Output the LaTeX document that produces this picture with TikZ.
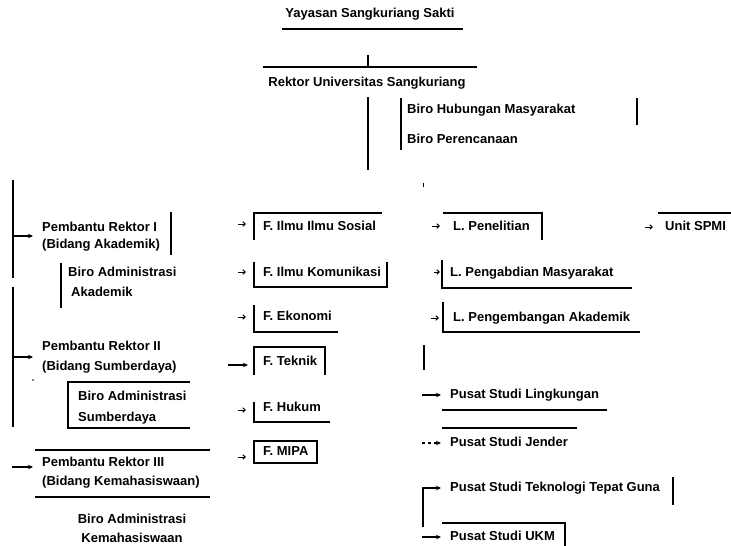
\documentclass[tikz,border=0pt]{standalone}
\usepackage{fontspec}
\setmainfont{Liberation Sans}
\usetikzlibrary{arrows.meta}
\begin{document}
\begin{tikzpicture}[x=1pt,y=-1pt,
  lbl/.style={inner sep=0pt, anchor=west, font=\bfseries\fontsize{13}{15}\selectfont, text height=9.5pt, text depth=2.7pt},
  lbltwo/.style={inner sep=0pt, anchor=west, align=left, font=\bfseries\fontsize{13}{20}\selectfont},
  frame/.style={line width=1.5pt},
  arr/.style={line width=1.2pt, -{Stealth[length=5pt,width=4.5pt]}},
  tip/.style={line width=1pt, -{Straight Barb[length=2.5pt,width=4.5pt]}},
]
\useasboundingbox (0,0) rectangle (731,546);

% top
\node[lbl, anchor=center] (yay) at (370,14) {Yayasan Sangkuriang Sakti};
\draw[line width=2.6pt] (282,29) -- (463,29);
\draw[frame] (368,55) -- (368,67);
\draw[frame] (263,67) -- (477,67);
\node[lbl, anchor=center] (rek) at (367,83) {Rektor Universitas Sangkuriang};
\draw[frame] (368,97) -- (368,170);
\draw[frame] (401,98) -- (401,150);
\node[lbl] (humas) at (407,110) {Biro Hubungan Masyarakat};
\draw[frame] (637,98) -- (637,125);
\node[lbl] (renc) at (407,140) {Biro Perencanaan};
\draw[line width=1pt] (423,183) -- (423,187);

% left column
\draw[frame] (13,180) -- (13,278);
\coordinate (a1s) at (13,236);
\coordinate (a1e) at (33,236);
\draw[arr] (a1s) -- (a1e);
\node[lbltwo] (pr1) at (42,237) {Pembantu Rektor I\\[-3pt](Bidang Akademik)};
\draw[frame] (171,212) -- (171,255);
\draw[frame] (61,263) -- (61,308);
\node[lbltwo] (baa) at (68,282) {Biro Administrasi\\\hspace*{3pt}Akademik};
\draw[frame] (13,287) -- (13,427);
\coordinate (a2s) at (13,357);
\coordinate (a2e) at (33,357);
\draw[arr] (a2s) -- (a2e);
\node[lbltwo] (pr2) at (42,357) {Pembantu Rektor II\\(Bidang Sumberdaya)};
\fill (33,380) circle (0.8pt);
\draw[frame] (190,382) -- (68,382) -- (68,428) -- (190,428);
\node[lbltwo] (bas) at (78,408) {Biro Administrasi\\[1pt]Sumberdaya};
\draw[frame] (35,450) -- (210,450);
\coordinate (a3s) at (12,467);
\coordinate (a3e) at (33,467);
\draw[arr] (a3s) -- (a3e);
\node[lbltwo] (pr3) at (42,473) {Pembantu Rektor III\\[-1pt](Bidang Kemahasiswaan)};
\draw[frame] (35,497) -- (210,497);
\node[lbltwo, align=center, anchor=center] (bak) at (132,528) {Biro Administrasi\\[-1pt]Kemahasiswaan};

% faculties
\foreach \yy/\nm in {224/t1, 272/t2, 317/t3, 410/t5, 457/t6} {
  \coordinate (\nm s) at (238,\yy);
  \coordinate (\nm e) at (246,\yy);
  \draw[tip] (\nm s) -- (\nm e);
}
\coordinate (t4s) at (228,365);
\coordinate (t4e) at (248,365);
\draw[arr] (t4s) -- (t4e);
\draw[frame] (254,240) -- (254,213) -- (382,213);
\node[lbl] (fis) at (263,227) {F. Ilmu Ilmu Sosial};
\draw[frame] (254,262) -- (254,287) -- (387,287) -- (387,262);
\node[lbl] (fik) at (263,273) {F. Ilmu Komunikasi};
\draw[frame] (254,305) -- (254,332) -- (338,332);
\node[lbl] (fe) at (263,317) {F. Ekonomi};
\draw[frame] (254,375) -- (254,347) -- (325,347) -- (325,375);
\node[lbl] (ft) at (263,362) {F. Teknik};
\draw[frame] (254,402) -- (254,422) -- (330,422);
\node[lbl] (fh) at (263,408) {F. Hukum};
\draw[frame] (254,441) rectangle (317,463);
\node[lbl] (fm) at (263,452) {F. MIPA};

% lembaga
\coordinate (l1s) at (432,226); \coordinate (l1e) at (440,226);
\draw[tip] (l1s) -- (l1e);
\draw[frame] (443,213) -- (542,213) -- (542,240);
\node[lbl] (lp) at (453,227) {L. Penelitian};
\coordinate (u1s) at (645,227); \coordinate (u1e) at (653,227);
\draw[tip] (u1s) -- (u1e);
\draw[frame] (658,213) -- (731,213);
\node[lbl] (spmi) at (665,227) {Unit SPMI};
\coordinate (l2s) at (434,272); \coordinate (l2e) at (440,272);
\draw[tip] (l2s) -- (l2e);
\draw[frame] (442,260) -- (442,288) -- (632,288);
\node[lbl] (lpm) at (450,273) {L. Pengabdian Masyarakat};
\coordinate (l3s) at (431,318); \coordinate (l3e) at (439,318);
\draw[tip] (l3s) -- (l3e);
\draw[frame] (443,302) -- (443,332) -- (640,332);
\node[lbl] (lpa) at (453,318) {L. Pengembangan Akademik};
\draw[frame] (424,345) -- (424,370);

% pusat studi
\coordinate (p1s) at (422,395); \coordinate (p1e) at (441,395);
\draw[arr] (p1s) -- (p1e);
\node[lbl] (psl) at (450,395) {Pusat Studi Lingkungan};
\draw[frame] (442,410) -- (607,410);
\draw[frame] (442,428) -- (577,428);
\coordinate (p2s) at (422,443); \coordinate (p2e) at (441,443);
\draw[arr, dashed] (p2s) -- (p2e);
\node[lbl] (psj) at (450,443) {Pusat Studi Jender};
\coordinate (p3s) at (423,527); \coordinate (p3e) at (441,488);
\draw[arr] (p3s) |- (p3e);
\node[lbl] (pst) at (450,488) {Pusat Studi Teknologi Tepat Guna};
\draw[frame] (673,477) -- (673,505);
\draw[frame] (442,523) -- (565,523) -- (565,546);
\coordinate (p4s) at (422,537); \coordinate (p4e) at (441,537);
\draw[arr] (p4s) -- (p4e);
\node[lbl] (psu) at (450,537) {Pusat Studi UKM};
\end{tikzpicture}
\end{document}
